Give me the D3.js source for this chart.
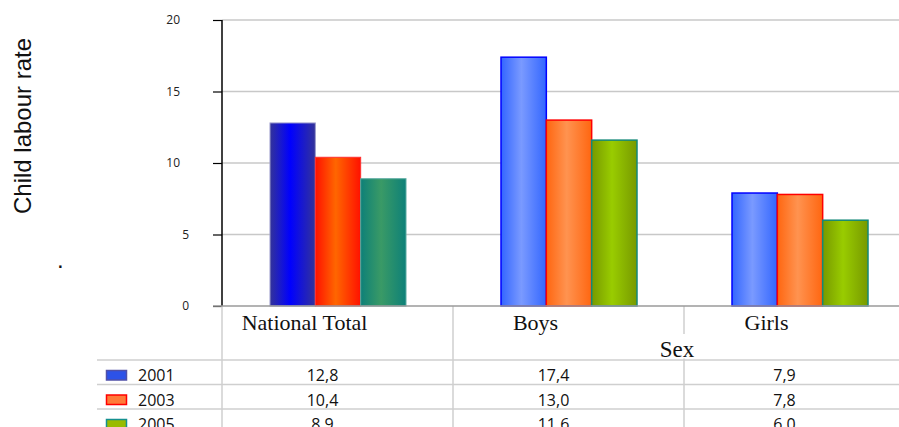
<!DOCTYPE html>
<html>
<head>
<meta charset="utf-8">
<script src="https://cdn.jsdelivr.net/npm/d3@7"></script>
<style>
  html, body { margin: 0; padding: 0; background: #fff; }
  svg { display: block; }
</style>
</head>
<body>
<svg id="chart" width="899" height="427"></svg>
<script>
// ---- data ----
const categories = ["National Total", "Boys", "Girls"];
const seriesNames = ["2001", "2003", "2005"];
const values2001 = [12.8, 17.4, 7.9];
const values2003 = [10.4, 13.0, 7.8];
const values2005 = [8.9, 11.6, 6.0];
const tableLabels2001 = ["12,8", "17,4", "7,9"];
const tableLabels2003 = ["10,4", "13,0", "7,8"];
const tableLabels2005 = ["8,9", "11,6", "6,0"];
const yTicks = [0, 5, 10, 15, 20];
const yTitle = "Child labour rate";
const xTitle = "Sex";

const seriesValues = [values2001, values2003, values2005];
const tableLabels = [tableLabels2001, tableLabels2003, tableLabels2005];

// ---- styles ----
const gradNational = [
  { edge: "#333399", mid: "#0000ff", stroke: "#9a9acc" },
  { edge: "#ff1100", mid: "#ff6600", stroke: "#ff3030" },
  { edge: "#0d8078", mid: "#3a9a66", stroke: "#5aaaa0" }
];
const gradOther = [
  { edge: "#3366ff", mid: "#7a9aff", stroke: "#0000ff" },
  { edge: "#ff6610", mid: "#ff9350", stroke: "#ff0000" },
  { edge: "#779900", mid: "#99cc00", stroke: "#138878" }
];
const legendSwatch = [
  { fill: "#2d52e8", stroke: "#5050a8" },
  { fill: "#ff7a38", stroke: "#ff0000" },
  { fill: "#99bb00", stroke: "#159090" }
];

const svg = d3.select("#chart");
const defs = svg.append("defs");

function addGrad(id, c) {
  const g = defs.append("linearGradient").attr("id", id)
    .attr("x1", "0%").attr("x2", "100%").attr("y1", "0%").attr("y2", "0%");
  g.append("stop").attr("offset", "0%").attr("stop-color", c.edge);
  g.append("stop").attr("offset", "45%").attr("stop-color", c.mid);
  g.append("stop").attr("offset", "100%").attr("stop-color", c.edge);
}
gradNational.forEach((c, i) => addGrad("gn" + i, c));
gradOther.forEach((c, i) => addGrad("go" + i, c));

// ---- scales ----
const plotLeft = 222, plotTop = 20, plotBottom = 306;
const bandW = 231;
const x0 = d3.scaleBand().domain(categories)
  .range([plotLeft, plotLeft + bandW * categories.length]).padding(0);
const x1 = d3.scaleBand().domain(seriesNames).range([48, 184]).padding(0);
const y = d3.scaleLinear().domain([0, 20]).range([plotBottom, plotTop]);

// ---- gridlines ----
svg.append("g")
  .selectAll("line").data(yTicks.filter(t => t > 0)).join("line")
  .attr("x1", plotLeft).attr("x2", 899)
  .attr("y1", d => y(d)).attr("y2", d => y(d))
  .attr("stroke", "#c8c8c8").attr("stroke-width", 1.5);

// ---- bars ----
const groups = svg.append("g").selectAll("g").data(categories).join("g")
  .attr("transform", d => `translate(${x0(d)},0)`);
groups.selectAll("rect")
  .data((cat, ci) => seriesNames.map((s, si) => ({ cat, ci, s, si, v: seriesValues[si][ci] })))
  .join("rect")
  .attr("x", d => x1(d.s))
  .attr("y", d => y(d.v))
  .attr("width", x1.bandwidth())
  .attr("height", d => y(0) - y(d.v))
  .attr("fill", d => d.ci === 0 ? `url(#gn${d.si})` : `url(#go${d.si})`)
  .attr("stroke", d => (d.ci === 0 ? gradNational : gradOther)[d.si].stroke)
  .attr("stroke-width", d => d.ci === 0 ? 1 : 1.5);

// ---- y axis ----
const yAxis = d3.axisLeft(y).tickValues(yTicks).tickSize(9).tickPadding(0)
  .tickFormat(d3.format("d"));
const ya = svg.append("g").attr("transform", `translate(${plotLeft},0)`).call(yAxis);
ya.select(".domain").remove();
ya.selectAll(".tick line").attr("stroke", "#000").attr("stroke-width", 1.2);
ya.selectAll(".tick text")
  .attr("font-family", "'Open Sans', 'DejaVu Sans', sans-serif")
  .attr("font-size", 12).attr("fill", "#222")
  .attr("x", d => String(d).length > 1 ? -42 : -33);
svg.append("line")
  .attr("x1", plotLeft).attr("x2", plotLeft)
  .attr("y1", y(20)).attr("y2", y(0))
  .attr("stroke", "#000").attr("stroke-width", 1.5);

// ---- table grid ----
const tableLeft = 97, tableTop = 360, rowH = 24.5;
const grid = svg.append("g").attr("stroke", "#cfcfcf").attr("stroke-width", 1.5);
svg.append("line").attr("x1", 213).attr("x2", 899)
  .attr("y1", y(0)).attr("y2", y(0))
  .attr("stroke", "#9a9a9a").attr("stroke-width", 1.5);
grid.selectAll("line.h").data(d3.range(seriesNames.length)).join("line")
  .attr("class", "h")
  .attr("x1", tableLeft).attr("x2", 899)
  .attr("y1", i => tableTop + i * rowH).attr("y2", i => tableTop + i * rowH);
grid.selectAll("line.v").data(categories).join("line")
  .attr("class", "v")
  .attr("x1", d => x0(d)).attr("x2", d => x0(d))
  .attr("y1", y(0)).attr("y2", 427);
const breakX = x0(categories[2]);
svg.append("rect").attr("x", breakX - 3).attr("y", 334).attr("width", 6).attr("height", 24.5)
  .attr("fill", "#fff");

// ---- category labels ----
svg.append("g").selectAll("text").data(categories).join("text")
  .attr("x", d => x0(d) + bandW / 2 - 33)
  .attr("y", 330)
  .attr("text-anchor", "middle")
  .attr("font-family", "'Liberation Serif', 'Times New Roman', serif")
  .attr("font-size", 22).attr("fill", "#111")
  .text(d => d);

svg.append("text")
  .attr("x", 677).attr("y", 357)
  .attr("text-anchor", "middle")
  .attr("font-family", "'Liberation Serif', 'Times New Roman', serif")
  .attr("font-size", 23).attr("fill", "#111")
  .text(xTitle);

// ---- legend / table rows ----
const rows = svg.append("g").selectAll("g").data(seriesNames).join("g")
  .attr("transform", (d, i) => `translate(0,${tableTop + i * rowH})`);
rows.append("rect")
  .attr("x", 106.5).attr("y", 10.5).attr("width", 20).attr("height", 9.5)
  .attr("fill", (d, i) => legendSwatch[i].fill)
  .attr("stroke", (d, i) => legendSwatch[i].stroke).attr("stroke-width", 1.5);
rows.append("text")
  .attr("x", 138).attr("y", 21)
  .attr("font-family", "'Open Sans', 'DejaVu Sans', sans-serif")
  .attr("font-size", 16).attr("fill", "#111")
  .text(d => d);
rows.selectAll("text.v")
  .data((s, si) => categories.map((c, ci) => ({ c, label: tableLabels[si][ci] })))
  .join("text").attr("class", "v")
  .attr("x", d => x0(d.c) + bandW / 2 - 15)
  .attr("y", 21)
  .attr("text-anchor", "middle")
  .attr("font-family", "'Open Sans', 'DejaVu Sans', sans-serif")
  .attr("font-size", 16).attr("fill", "#111")
  .text(d => d.label);

// ---- y title ----
svg.append("text")
  .attr("transform", "translate(31,126) rotate(-90)")
  .attr("text-anchor", "middle")
  .attr("font-family", "'Liberation Sans', Arial, sans-serif")
  .attr("font-size", 24).attr("fill", "#111")
  .text(yTitle);

// stray dot
svg.append("text")
  .attr("x", 57).attr("y", 268)
  .attr("font-family", "'Liberation Sans', Arial, sans-serif")
  .attr("font-size", 24).attr("fill", "#111")
  .text(".");
</script>
</body>
</html>
